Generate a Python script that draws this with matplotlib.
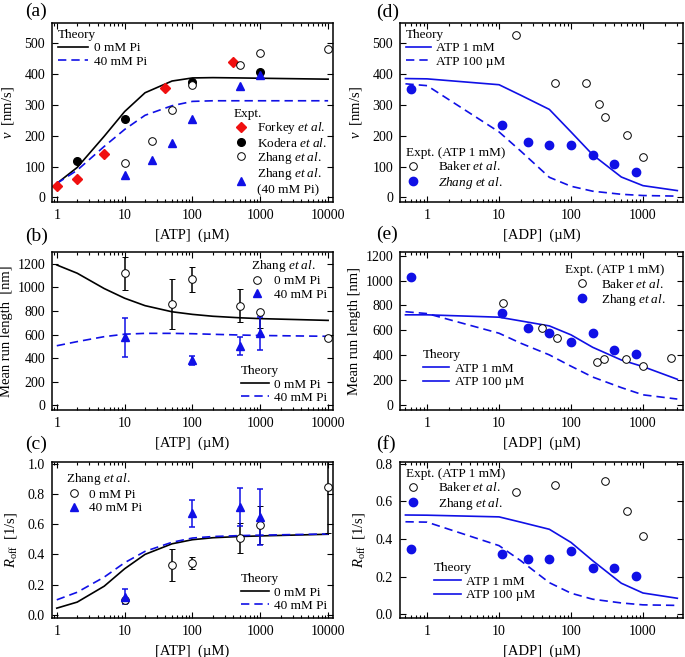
import numpy as np
import matplotlib
matplotlib.use("Agg")
import matplotlib.pyplot as plt
from matplotlib.lines import Line2D
from matplotlib.legend import Legend
from matplotlib.ticker import FixedLocator, LogLocator, NullFormatter

plt.rcParams['font.family'] = ['Liberation Serif', 'DejaVu Serif']
plt.rcParams['mathtext.fontset'] = 'custom'
plt.rcParams['mathtext.rm'] = 'Liberation Serif'
plt.rcParams['mathtext.it'] = 'Liberation Serif:italic'
plt.rcParams['font.size'] = 10

BLUE = '#1010e6'
RED = '#f01010'
ETAL = r'$\it{et\ al.}$'

# --- ATP dependence (a-c) ---
atp_theory = [1, 2, 5, 10, 20, 50, 100, 200, 500, 1000, 10000]
v_th_0pi = [45, 97, 198, 278, 339, 377, 387, 388, 387, 386, 383]
v_th_40pi = [45, 88, 165, 220, 266, 297, 311, 313, 313, 313, 313]
run_th_0pi = [1190, 1120, 990, 908, 845, 793, 771, 755, 742, 735, 720]
run_th_40pi = [505, 540, 582, 603, 610, 610, 607, 602, 596, 592, 585]
roff_th_0pi = [0.045, 0.085, 0.19, 0.305, 0.40, 0.47, 0.497, 0.51, 0.518, 0.522, 0.533]
roff_th_40pi = [0.10, 0.15, 0.25, 0.345, 0.42, 0.48, 0.508, 0.518, 0.524, 0.527, 0.535]

forkey_atp = [1, 2, 5, 40, 400]
forkey_v = [37, 60, 139, 355, 440]
kodera_atp = [2, 10, 100, 1000]
kodera_v = [118, 253, 373, 406]
zhang_atp_v = [10, 25, 50, 100, 500, 1000, 10000]
zhang_v_0pi = [112, 183, 282, 364, 430, 469, 482]
zhang_atp_v40 = [10, 25, 50, 100, 500, 1000]
zhang_v_40pi = [73, 122, 176, 254, 360, 395]

zhang_atp_run = [10, 50, 100, 500, 1000, 10000]
zhang_run_0pi = [1120, 862, 1068, 846, 790, 568]
zhang_run_0pi_lo = [140, 212, 108, 136, 135, 0]
zhang_run_0pi_hi = [140, 212, 108, 136, 0, 0]
zhang_atp_run40 = [10, 100, 500, 1000]
zhang_run_40pi = [575, 380, 502, 612]
zhang_run_40pi_err = [165, 42, 78, 140]

zhang_atp_roff = [10, 50, 100, 500, 1000, 10000]
zhang_roff_0pi = [0.097, 0.328, 0.342, 0.508, 0.593, 0.848]
zhang_roff_0pi_err = [0.015, 0.106, 0.04, 0.097, 0.125, 0.31]
zhang_atp_roff40 = [10, 100, 500, 1000]
zhang_roff_40pi = [0.12, 0.672, 0.712, 0.645]
zhang_roff_40pi_err = [0.05, 0.088, 0.125, 0.185]

# --- ADP dependence (d-f) ---
adp_theory = [0.5, 1, 10, 20, 50, 100, 200, 500, 1000, 3000]
v_th_1mm = [385, 384, 365, 331, 285, 212, 138, 66, 38, 22]
v_th_100um = [368, 362, 212, 150, 65, 36, 20, 10, 6, 4]
run_th_1mm = [725, 725, 706, 676, 636, 564, 464, 362, 309, 207]
run_th_100um = [750, 735, 577, 497, 403, 312, 225, 140, 82, 48]
roff_th_1mm = [0.528, 0.527, 0.518, 0.49, 0.452, 0.382, 0.285, 0.165, 0.113, 0.085]
roff_th_100um = [0.492, 0.49, 0.365, 0.285, 0.168, 0.112, 0.08, 0.06, 0.05, 0.047]

zhang_adp = [0.6, 11, 25, 50, 100, 200, 400, 800]
zhang_adp_v = [352, 235, 179, 169, 169, 137, 108, 81]
zhang_adp_run = [1028, 738, 623, 580, 510, 577, 443, 408]
zhang_adp_roff = [0.347, 0.322, 0.293, 0.295, 0.338, 0.244, 0.246, 0.203]

baker_adp_v = [17, 60, 160, 245, 300, 600, 1000]
baker_v = [527, 371, 371, 301, 261, 202, 131]
baker_adp_run = [11.3, 40, 63, 230, 285, 580, 1000, 2470]
baker_run = [819, 620, 542, 349, 370, 370, 314, 381]
baker_adp_roff = [17, 60, 300, 600, 1000]
baker_roff = [0.648, 0.69, 0.711, 0.548, 0.416]

W, H = 685, 657
fig = plt.figure(figsize=(W / 100, H / 100), dpi=100)


def make_axes(x0, x1, y0, y1):
    return fig.add_axes([x0 / W, 1 - y1 / H, (x1 - x0) / W, (y1 - y0) / H])


def style(ax, xticks, xlim, ylim, yticks, ylabel, xlabel, ypad=3):
    ax.set_xscale('log')
    ax.set_xlim(*xlim)
    ax.set_ylim(*ylim)
    ax.xaxis.set_major_locator(FixedLocator(xticks))
    ax.set_xticklabels([str(t) for t in xticks])
    ax.xaxis.set_minor_locator(LogLocator(base=10, subs=np.arange(2, 10), numticks=20))
    ax.xaxis.set_minor_formatter(NullFormatter())
    ax.set_yticks(yticks)
    ax.tick_params(which='both', direction='in', top=True, right=True, width=0.8,
                   labelsize=10)
    ax.tick_params(which='major', length=4, pad=5)
    ax.tick_params(which='minor', length=2.2)
    for s in ax.spines.values():
        s.set_linewidth(1.1)
    ax.set_ylabel(ylabel, labelpad=ypad, fontsize=10.5)
    ax.set_xlabel(xlabel, labelpad=5, fontsize=10.5)


def leg(ax, handles, labels, title, **kw):
    opts = dict(frameon=False, alignment='left', handlelength=2.3, handletextpad=0.4,
                labelspacing=0.1, borderaxespad=0.25, borderpad=0.2,
                fontsize=9.5, title_fontsize=9.5)
    opts.update(kw)
    lg = Legend(ax, handles, labels, title=title, **opts)
    ax.add_artist(lg)
    return lg


ATP_TICKS = [1, 10, 100, 1000, 10000]
ADP_TICKS = [1, 10, 100, 1000]
ATP_LIM = (0.85, 11800)
ADP_LIM = (0.42, 3600)
ATP_LABEL = '[ATP]  (\u00b5M)'
ADP_LABEL = '[ADP]  (\u00b5M)'
dash = (0, (5, 3))
ms = 5.5

# (a)
ax = make_axes(52, 333, 23, 202)
l1, = ax.plot(atp_theory, v_th_0pi, color='k', lw=1.2)
l2, = ax.plot(atp_theory, v_th_40pi, color=BLUE, lw=1.2, ls=dash)
m1, = ax.plot(forkey_atp, forkey_v, 'D', color=RED, ms=ms)
m2, = ax.plot(kodera_atp, kodera_v, 'o', color='k', ms=ms)
m3, = ax.plot(zhang_atp_v, zhang_v_0pi, 'o', mfc='white', mec='k', mew=0.7, ms=ms)
m4, = ax.plot(zhang_atp_v40, zhang_v_40pi, '^', color=BLUE, ms=ms + 0.5)
style(ax, ATP_TICKS, ATP_LIM, (-15, 565), range(0, 501, 100), r'$v$  [nm/s]', ATP_LABEL,
      ypad=6)
leg(ax, [l1, l2], ['0 mM Pi', '40 mM Pi'], 'Theory', loc='upper left')
leg(ax, [m1, m2, m3, m4], ['Forkey ' + ETAL, 'Kodera ' + ETAL, 'Zhang ' + ETAL,
                           'Zhang ' + ETAL + '\n(40 mM Pi)'],
    'Expt.', loc='lower right', handlelength=1.2, handletextpad=0.6,
    labelspacing=0.02, bbox_to_anchor=(1.0, 0.0))

# (b)
ax = make_axes(52, 333, 252, 410)
l1, = ax.plot(atp_theory, run_th_0pi, color='k', lw=1.2)
l2, = ax.plot(atp_theory, run_th_40pi, color=BLUE, lw=1.2, ls=dash)
ax.errorbar(zhang_atp_run, zhang_run_0pi, yerr=[zhang_run_0pi_lo, zhang_run_0pi_hi],
            fmt='o', mfc='white', mec='k', mew=0.7, ms=ms, ecolor='k', elinewidth=1.1,
            capsize=2.5, capthick=1.1)
ax.errorbar(zhang_atp_run40, zhang_run_40pi, yerr=zhang_run_40pi_err, fmt='^',
            color=BLUE, ms=ms + 0.5, elinewidth=1.1, capsize=2.5, capthick=1.1)
style(ax, ATP_TICKS, ATP_LIM, (-40, 1300), range(0, 1201, 200), 'Mean run length  [nm]', ATP_LABEL)
h1 = Line2D([], [], ls='none', marker='o', mfc='white', mec='k', mew=0.7, ms=ms)
h2 = Line2D([], [], ls='none', marker='^', color=BLUE, ms=ms + 0.5)
leg(ax, [h1, h2], ['0 mM Pi', '40 mM Pi'], 'Zhang ' + ETAL, loc='upper right',
    handlelength=1.0, handletextpad=0.75)
leg(ax, [l1, l2], ['0 mM Pi', '40 mM Pi'], 'Theory', loc='lower right', handlelength=2.1)

# (c)
ax = make_axes(52, 333, 462, 618)
l1, = ax.plot(atp_theory, roff_th_0pi, color='k', lw=1.2)
l2, = ax.plot(atp_theory, roff_th_40pi, color=BLUE, lw=1.2, ls=dash)
ax.errorbar(zhang_atp_roff, zhang_roff_0pi, yerr=zhang_roff_0pi_err, fmt='o', mfc='white',
            mec='k', mew=0.7, ms=ms, ecolor='k', elinewidth=1.1, capsize=2.5, capthick=1.1)
ax.errorbar(zhang_atp_roff40, zhang_roff_40pi, yerr=zhang_roff_40pi_err, fmt='^',
            color=BLUE, ms=ms + 0.5, elinewidth=1.1, capsize=2.5, capthick=1.1)
style(ax, ATP_TICKS, ATP_LIM, (-0.02, 1.01), np.arange(0, 1.01, 0.2),
      r'$R_{\rm off}$  [1/s]', ATP_LABEL, ypad=6)
ax.set_yticklabels(['%.1f' % t for t in np.arange(0, 1.01, 0.2)])
leg(ax, [h1, h2], ['0 mM Pi', '40 mM Pi'], 'Zhang ' + ETAL, loc='upper left',
    handlelength=1.2, handletextpad=0.5, bbox_to_anchor=(0.03, 0.98))
leg(ax, [l1, l2], ['0 mM Pi', '40 mM Pi'], 'Theory', loc='lower right', handlelength=2.1)

# (d)
ax = make_axes(400, 683, 23, 202)
l1, = ax.plot(adp_theory, v_th_1mm, color=BLUE, lw=1.2)
l2, = ax.plot(adp_theory, v_th_100um, color=BLUE, lw=1.2, ls=dash)
m1, = ax.plot(baker_adp_v, baker_v, 'o', mfc='white', mec='k', mew=0.7, ms=ms)
m2, = ax.plot(zhang_adp, zhang_adp_v, 'o', color=BLUE, ms=ms + 0.5)
style(ax, ADP_TICKS, ADP_LIM, (-15, 565), range(0, 501, 100), r'$v$  [nm/s]', ADP_LABEL,
      ypad=6)
leg(ax, [l1, l2], ['ATP 1 mM', 'ATP 100 \u00b5M'], 'Theory', loc='upper left',
    handlelength=1.9)
leg(ax, [m1, m2], ['Baker ' + ETAL, r'$\it{Zhang\ et\ al.}$'], 'Expt. (ATP 1 mM)',
    loc='lower left', handlelength=1.0, handletextpad=1.4, bbox_to_anchor=(0.0, 0.03))

# (e)
ax = make_axes(400, 683, 252, 410)
ax.plot(adp_theory, run_th_1mm, color=BLUE, lw=1.2)
ax.plot(adp_theory, run_th_100um, color=BLUE, lw=1.2, ls=dash)
m1, = ax.plot(baker_adp_run, baker_run, 'o', mfc='white', mec='k', mew=0.7, ms=ms)
m2, = ax.plot(zhang_adp, zhang_adp_run, 'o', color=BLUE, ms=ms + 0.5)
style(ax, ADP_TICKS, ADP_LIM, (-40, 1230), range(0, 1201, 200), 'Mean run length [nm]', ADP_LABEL)
leg(ax, [m1, m2], ['Baker ' + ETAL, 'Zhang ' + ETAL], 'Expt. (ATP 1 mM)',
    loc='upper right', handlelength=2.6, handletextpad=0.15, bbox_to_anchor=(0.96, 0.96))
s1 = Line2D([], [], color=BLUE, lw=1.2)
leg(ax, [s1, s1], ['ATP 1 mM', 'ATP 100 \u00b5M'], 'Theory', loc='lower left',
    handlelength=2.0, bbox_to_anchor=(0.06, 0.1))

# (f)
ax = make_axes(400, 683, 462, 618)
ax.plot(adp_theory, roff_th_1mm, color=BLUE, lw=1.2)
ax.plot(adp_theory, roff_th_100um, color=BLUE, lw=1.2, ls=dash)
m1, = ax.plot(baker_adp_roff, baker_roff, 'o', mfc='white', mec='k', mew=0.7, ms=ms)
m2, = ax.plot(zhang_adp, zhang_adp_roff, 'o', color=BLUE, ms=ms + 0.5)
style(ax, ADP_TICKS, ADP_LIM, (-0.02, 0.81), np.arange(0, 0.81, 0.2),
      r'$R_{\rm off}$  [1/s]', ADP_LABEL, ypad=6)
ax.set_yticklabels(['%.1f' % t for t in np.arange(0, 0.81, 0.2)])
leg(ax, [m1, m2], ['Baker ' + ETAL, 'Zhang ' + ETAL], 'Expt. (ATP 1 mM)',
    loc='upper left', handlelength=1.0, handletextpad=1.4)
leg(ax, [s1, s1], ['ATP 1 mM', 'ATP 100 \u00b5M'], 'Theory', loc='lower left',
    handlelength=2.0, bbox_to_anchor=(0.1, 0.07))

# panel labels
for lab, px, py in [('(a)', 25, 11), ('(b)', 25, 236), ('(c)', 25, 444),
                    ('(d)', 376, 12), ('(e)', 376, 234), ('(f)', 376, 444)]:
    fig.text(px / W, 1 - py / H, lab, fontsize=14, va='center', ha='left')

fig.savefig('out.png', dpi=100)
